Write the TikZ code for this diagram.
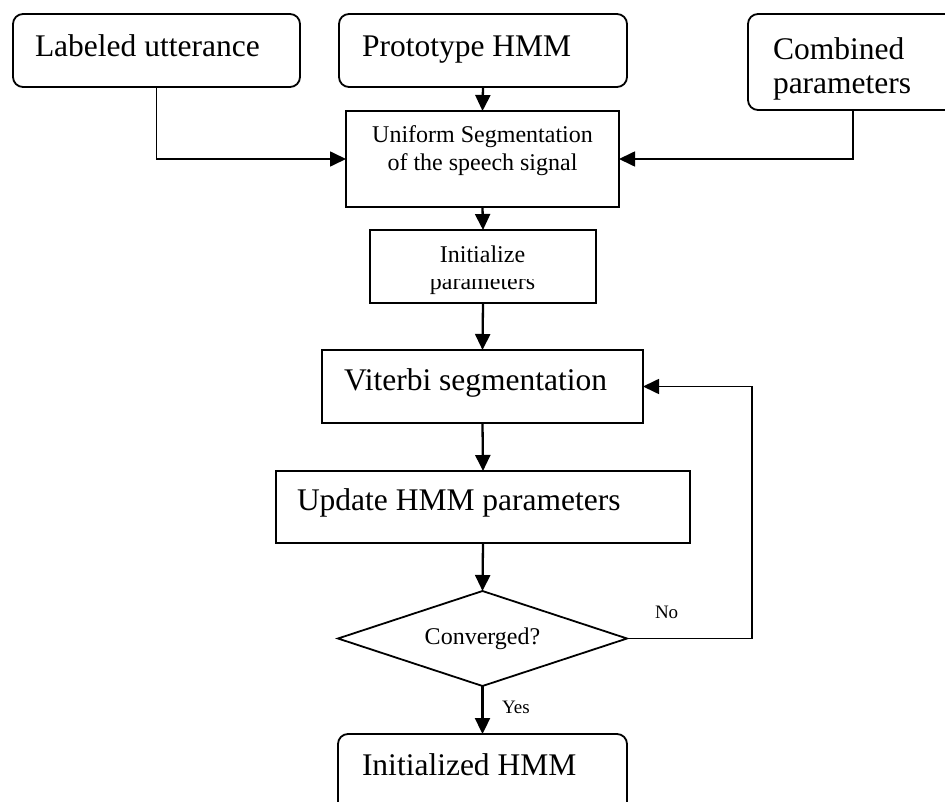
\documentclass[tikz,border=0pt]{standalone}
\usepackage{fontspec}
\setmainfont{Liberation Serif}
\usetikzlibrary{arrows.meta,shapes.geometric}

\tikzset{
  every node/.style={inner sep=0pt, outer sep=0pt},
  roundbox/.style={draw, rectangle, line width=1.8pt, rounded corners=10pt},
  sharpbox/.style={draw, rectangle, line width=1.8pt},
  decision/.style={draw, diamond, line width=1.8pt, minimum width=289pt,
                   minimum height=95pt, shape aspect=3.04},
  bigtext/.style={font=\fontsize{31.5}{36}\selectfont},
  midtext/.style={font=\fontsize{24}{28}\selectfont},
  smalltext/.style={font=\fontsize{19}{22}\selectfont},
  flow/.style={line width=2.3pt, -{Triangle[length=16pt,width=15pt]}},
  feed/.style={line width=1.7pt, -{Triangle[length=16pt,width=15pt]}},
}

\begin{document}
\begin{tikzpicture}[x=1pt,y=-1pt]
\useasboundingbox (0,0) rectangle (945,802);

% input boxes along the top
\node[roundbox, minimum width=287pt, minimum height=73pt] (lab) at (156.5,50.5) {};
\node[bigtext, anchor=base west] (labtxt) at (35,57) {Labeled utterance};

\node[roundbox, minimum width=288pt, minimum height=73pt] (proto) at (483,50.5) {};
\node[bigtext, anchor=base west] (prototxt) at (362,57) {Prototype HMM};

\node[roundbox, minimum width=210pt, minimum height=96pt] (comb) at (853,62) {};
\node[bigtext, anchor=base west] (combtxt1) at (773,60) {Combined};
\node[bigtext, anchor=base west] (combtxt2) at (773,94) {parameters};

% uniform segmentation
\node[sharpbox, minimum width=273pt, minimum height=96pt] (uni) at (482.5,159) {};
\node[midtext, anchor=base] (unitxt1) at (482.5,143) {Uniform Segmentation};
\node[midtext, anchor=base] (unitxt2) at (482.5,171) {of the speech signal};

% parameter initialisation
\node[sharpbox, minimum width=226pt, minimum height=73pt] (init) at (483,266.5) {};
\node[midtext, anchor=base] (inittxt1) at (482.5,263) {Initialize};
\begin{scope}
  \clip (372,280) rectangle (594,302);
  \node[midtext, anchor=base] (inittxt2) at (482.5,290) {parameters};
\end{scope}

% training loop
\node[sharpbox, minimum width=321pt, minimum height=73pt] (vit) at (482.5,386.5) {};
\node[bigtext, anchor=base west] (vittxt) at (344,390) {Viterbi segmentation};

\node[sharpbox, minimum width=414pt, minimum height=72pt] (upd) at (483,507) {};
\node[bigtext, anchor=base west] (updtxt) at (297,510) {Update HMM parameters};

\node[decision, midtext] (dia) at (482.5,638.5) {Converged?};

\node[roundbox, minimum width=289pt, minimum height=100pt] (ihmm) at (482.5,784) {};
\node[bigtext, anchor=base west] (ihmmtxt) at (362,775) {Initialized HMM};

% connectors
\draw[flow] (proto.south) -- (uni.north);
\draw[feed] (lab.south) |- (uni.west);
\draw[feed] (comb.south) |- (uni.east);
\draw[flow] (uni.south) -- (init.north);
\draw[flow] (init.south) -- (vit.north);
\draw[flow] (vit.south) -- (upd.north);
\draw[flow] (upd.south) -- (dia.north);
\draw[flow] (dia.south) -- (ihmm.north);
\coordinate (loop) at (752,638.5);
\draw[feed] (dia.east) -- (loop) |- (vit.east);

\node[smalltext, anchor=base west] (no) at (655,618) {No};
\node[smalltext, anchor=base west] (yes) at (502,713) {Yes};
\end{tikzpicture}
\end{document}
